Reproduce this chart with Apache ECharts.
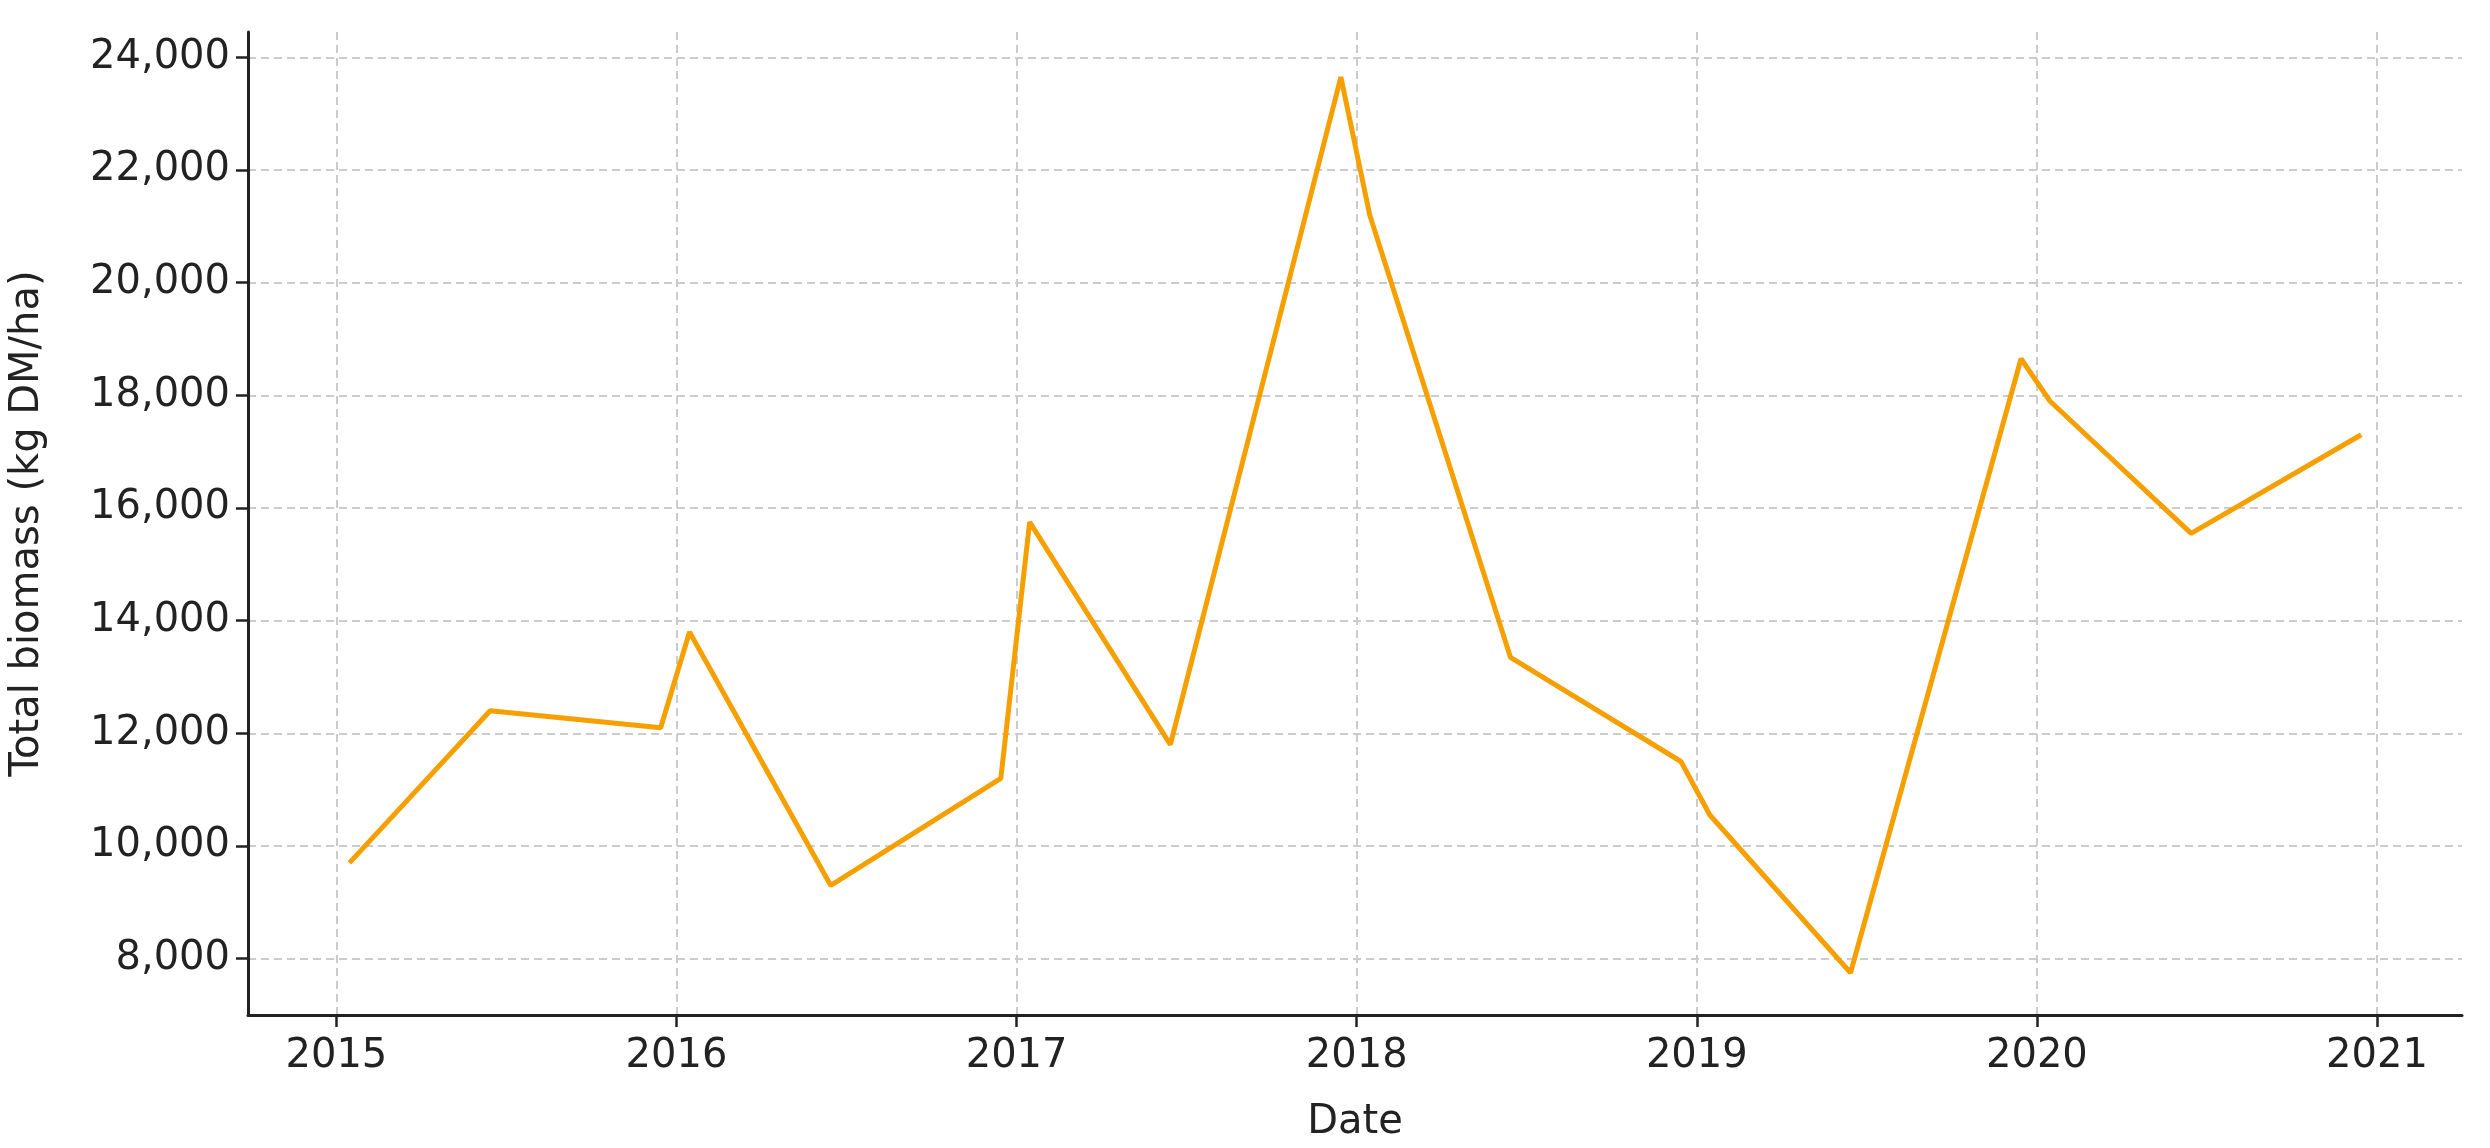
<!DOCTYPE html>
<html><head><meta charset="utf-8">
<script src="https://cdn.jsdelivr.net/npm/echarts@6/dist/echarts.min.js"></script>
<style>html,body{margin:0;background:#fff}#c{width:2490px;height:1148px}</style>
</head><body><div id="c"></div>
<script>
const dates = ["2015-01-15","2015-06-15","2015-12-15","2016-01-15","2016-06-15","2016-12-15",
  "2017-01-15","2017-06-15","2017-12-15","2018-01-15","2018-06-15","2018-12-15",
  "2019-01-15","2019-06-15","2019-12-15","2020-01-15","2020-06-15","2020-12-15"];
const biomass = [9700,12400,12100,13800,9300,11200,15750,11800,23650,21200,13350,11500,10550,7750,18650,17900,15550,17300];
const yearTicks = [2015,2016,2017,2018,2019,2020,2021];
const yTicks = [8000,10000,12000,14000,16000,18000,20000,22000,24000];

function toYear(s) {
  const d = new Date(s + "T00:00:00Z");
  const y = d.getUTCFullYear();
  const start = Date.UTC(y, 0, 1), end = Date.UTC(y + 1, 0, 1);
  return y + (d - start) / (end - start);
}

const font = "DejaVu Sans";
const gridLine = { show: true, lineStyle: { color: "#ccc", type: [8, 5], width: 2 } };
const chart = echarts.init(document.getElementById("c"));
chart.setOption({
  animation: false,
  grid: { left: 246, right: 28, top: 32, bottom: 130 },
  xAxis: {
    type: "value", min: 2014.74, max: 2021.25,
    name: "Date", nameLocation: "middle", nameGap: 88,
    nameTextStyle: { fontFamily: font, fontSize: 40, color: "#222" },
    axisLine: { lineStyle: { color: "#222", width: 3 } },
    axisTick: { show: true, customValues: yearTicks, length: 12, lineStyle: { width: 2.5, color: "#222" } },
    axisLabel: { customValues: yearTicks, formatter: v => String(Math.round(v)),
      fontFamily: font, fontSize: 40, color: "#222", margin: 22 },
    splitLine: gridLine
  },
  yAxis: {
    type: "value", min: 7000, max: 24450,
    name: "Total biomass (kg DM/ha)", nameLocation: "middle", nameGap: 200,
    nameTextStyle: { fontFamily: font, fontSize: 40, color: "#222" },
    axisLine: { show: true, lineStyle: { color: "#222", width: 3 } },
    axisTick: { show: true, customValues: yTicks, length: 12, lineStyle: { width: 2.5, color: "#222" } },
    axisLabel: { customValues: yTicks, formatter: v => v.toLocaleString("en-US"),
      fontFamily: font, fontSize: 40, color: "#222", margin: 18 },
    splitLine: gridLine
  },
  series: [{
    type: "line", data: dates.map((d, i) => [toYear(d), biomass[i]]),
    symbol: "none", lineStyle: { color: "#f5a000", width: 5 }
  }]
});
</script></body></html>
